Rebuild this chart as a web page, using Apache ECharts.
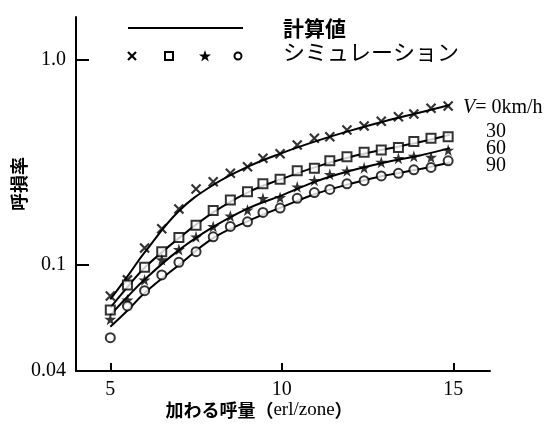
<!DOCTYPE html>
<html><head><meta charset="utf-8">
<script src="https://cdn.jsdelivr.net/npm/echarts@6/dist/echarts.min.js"></script>
<style>html,body{margin:0;padding:0;background:#fff}#c{width:558px;height:437px}</style>
</head><body><div id="c"></div>
<script>
// simulation points (x positions and loss probability)
const xSim = [5.0, 5.5, 6.0, 6.5, 7.0, 7.5, 8.0, 8.5, 9.0, 9.45, 9.95, 10.45, 10.95, 11.4, 11.9, 12.4, 12.9, 13.4, 13.85, 14.35, 14.85];
const simV0  = [0.0707, 0.0846, 0.121, 0.150, 0.187, 0.234, 0.254, 0.279, 0.300, 0.330, 0.347, 0.383, 0.413, 0.420, 0.453, 0.474, 0.500, 0.526, 0.542, 0.578, 0.593];
const simV30 = [0.0604, 0.080, 0.0975, 0.116, 0.136, 0.156, 0.184, 0.207, 0.227, 0.248, 0.261, 0.287, 0.295, 0.321, 0.336, 0.353, 0.362, 0.373, 0.398, 0.413, 0.420];
const simV60 = [0.0545, 0.0676, 0.0846, 0.106, 0.119, 0.137, 0.154, 0.173, 0.185, 0.211, 0.213, 0.240, 0.258, 0.276, 0.287, 0.297, 0.316, 0.330, 0.338, 0.334, 0.362];
const simV90 = [0.0443, 0.0632, 0.075, 0.0894, 0.103, 0.116, 0.137, 0.154, 0.162, 0.180, 0.189, 0.211, 0.225, 0.233, 0.248, 0.257, 0.271, 0.279, 0.290, 0.298, 0.321];
// calculated curves
const xCalc = [5, 5.5, 6, 7, 8, 9, 10, 11, 12, 13, 14, 14.9];
const calcV0  = [0.068, 0.088, 0.115, 0.183, 0.245, 0.300, 0.350, 0.400, 0.450, 0.500, 0.550, 0.600];
const calcV30 = [0.062, 0.078, 0.097, 0.135, 0.180, 0.225, 0.262, 0.300, 0.335, 0.365, 0.395, 0.430];
const calcV60 = [0.057, 0.070, 0.085, 0.118, 0.153, 0.188, 0.218, 0.255, 0.287, 0.315, 0.340, 0.370];
const calcV90 = [0.050, 0.060, 0.073, 0.100, 0.135, 0.163, 0.191, 0.222, 0.248, 0.272, 0.292, 0.315];
// ticks
const xTicks = [5, 10, 15];
const yTicks = [0.1, 1];
const yMin = 0.0305, yMax = 1.606;
const yLabelVals = [yMin, 0.1, 1];
const yLabelText = ['0.04', '0.1', '1.0'];
const speedLabels = ['30', '60', '90'];

const pair = (xs, ys) => xs.map((x, i) => [x, ys[i]]);
const serif = 'Liberation Serif';
const jp = 'Noto Sans CJK JP';
const xMark = 'path://M0,0L10,10M10,0L0,10';
const starMark = 'path://M50,0L61,35L98,35L68,57L79,91L50,70L21,91L32,57L2,35L39,35Z';

const lineS = (d) => ({type:'line', data: pair(xCalc, d), smooth: 0.4, showSymbol:false, symbol:'none',
  lineStyle:{color:'#000', width:2}, z:2, silent:true});

const chart = echarts.init(document.getElementById('c'), null, {renderer:'canvas'});
chart.setOption({
  backgroundColor:'#fff',
  animation:false,
  grid:{left:76, right:68, top:17, bottom:66, containLabel:false},
  xAxis:{type:'value', min:4, max:16.07,
    axisLine:{lineStyle:{color:'#000', width:2}},
    axisTick:{inside:true, length:8, lineStyle:{color:'#000', width:2}, customValues:xTicks},
    axisLabel:{customValues:xTicks, color:'#000', fontFamily:serif, fontSize:20, margin:9},
    splitLine:{show:false}},
  yAxis:{type:'log', logBase:10, min:yMin, max:yMax,
    axisLine:{show:true, lineStyle:{color:'#000', width:2}},
    axisTick:{show:true, inside:true, length:13, lineStyle:{color:'#000', width:2}, customValues:yTicks},
    axisLabel:{customValues:yLabelVals, color:'#000', fontFamily:serif, fontSize:20, margin:10,
      formatter:(v)=>{ for (let i=0;i<yLabelVals.length;i++){ if (Math.abs(Math.log10(v)-Math.log10(yLabelVals[i]))<0.01) return yLabelText[i]; } return ''; }},
    splitLine:{show:false}},
  series:[
    lineS(calcV0), lineS(calcV30), lineS(calcV60), lineS(calcV90),
    {type:'scatter', data:pair(xSim, simV0), symbol:xMark, symbolSize:9,
      itemStyle:{color:'rgba(0,0,0,0)', borderColor:'#000', borderWidth:2.2}, z:3},
    {type:'scatter', data:pair(xSim, simV30), symbol:'rect', symbolSize:9,
      itemStyle:{color:'#fff', borderColor:'#000', borderWidth:2}, z:3},
    {type:'scatter', data:pair(xSim, simV60), symbol:starMark, symbolSize:12,
      itemStyle:{color:'#000'}, z:3},
    {type:'scatter', data:pair(xSim, simV90), symbol:'circle', symbolSize:9,
      itemStyle:{color:'#fff', borderColor:'#000', borderWidth:2}, z:3}
  ],
  graphic:[
    {type:'line', shape:{x1:128, y1:28, x2:243, y2:28}, style:{stroke:'#000', lineWidth:2}},
    {type:'line', shape:{x1:128, y1:52, x2:136, y2:60}, style:{stroke:'#000', lineWidth:2.2}},
    {type:'line', shape:{x1:136, y1:52, x2:128, y2:60}, style:{stroke:'#000', lineWidth:2.2}},
    {type:'rect', shape:{x:165, y:52, width:8, height:8}, style:{fill:'#fff', stroke:'#000', lineWidth:2}},
    {type:'polygon', shape:{points:[[205,50],[206.5,54.5],[211,54.5],[207.4,57.2],[208.8,61.5],[205,58.8],[201.2,61.5],[202.6,57.2],[199,54.5],[203.5,54.5]]}, style:{fill:'#000'}},
    {type:'circle', shape:{cx:238, cy:56, r:3.5}, style:{fill:'#fff', stroke:'#000', lineWidth:2}},
    {type:'text', x:283, y:28, style:{text:'計算値', font:'bold 21px "Noto Sans CJK JP"', fill:'#000', verticalAlign:'middle'}},
    {type:'text', x:283, y:52, style:{text:'シミュレーション', font:'22px "Noto Sans CJK JP"', fill:'#000', verticalAlign:'middle'}},
    {type:'text', x:463, y:108, style:{text:'{i|V}= 0km/h', verticalAlign:'middle', fill:'#000',
      rich:{i:{fontFamily:serif, fontStyle:'italic', fontSize:20}}, font:'20px "Liberation Serif"'}},
    {type:'text', x:486, y:132, style:{text:speedLabels[0], font:'20px "Liberation Serif"', fill:'#000', verticalAlign:'middle'}},
    {type:'text', x:486, y:149, style:{text:speedLabels[1], font:'20px "Liberation Serif"', fill:'#000', verticalAlign:'middle'}},
    {type:'text', x:486, y:166, style:{text:speedLabels[2], font:'20px "Liberation Serif"', fill:'#000', verticalAlign:'middle'}},
    {type:'text', x:19, y:184, rotation:Math.PI/2, style:{text:'呼損率', font:'bold 18px "Noto Sans CJK JP"', fill:'#000', align:'center', verticalAlign:'middle'}},
    {type:'text', x:259, y:410, style:{text:'{a|加わる呼量（}{b|erl/zone}{a|）}', align:'center', verticalAlign:'middle', fill:'#000',
      rich:{a:{fontFamily:jp, fontSize:18, fontWeight:'bold'}, b:{fontFamily:serif, fontSize:19}}}}
  ]
});
</script></body></html>
